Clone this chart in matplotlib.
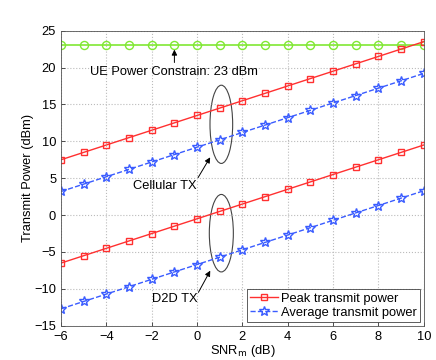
import matplotlib
matplotlib.use("Agg")
import matplotlib.pyplot as plt
from matplotlib.patches import Ellipse

plt.rcParams['font.family'] = ['Liberation Sans', 'DejaVu Sans']
plt.rcParams['font.size'] = 9.3

snr = [-6, -5, -4, -3, -2, -1, 0, 1, 2, 3, 4, 5, 6, 7, 8, 9, 10]
ue_limit = [23] * 17
peak_cell = [7.5, 8.5, 9.5, 10.5, 11.5, 12.5, 13.5, 14.5, 15.5, 16.5, 17.5,
             18.5, 19.5, 20.5, 21.5, 22.5, 23.5]
avg_cell = [3.2, 4.2, 5.2, 6.2, 7.2, 8.2, 9.2, 10.2, 11.2, 12.2, 13.2,
            14.2, 15.2, 16.2, 17.2, 18.2, 19.2]
peak_d2d = [-6.5, -5.5, -4.5, -3.5, -2.5, -1.5, -0.5, 0.5, 1.5, 2.5, 3.5,
            4.5, 5.5, 6.5, 7.5, 8.5, 9.5]
avg_d2d = [-12.7, -11.7, -10.7, -9.7, -8.7, -7.7, -6.7, -5.7, -4.7, -3.7,
           -2.7, -1.7, -0.7, 0.3, 1.3, 2.3, 3.3]

fig = plt.figure(figsize=(4.36, 3.6), dpi=100)
ax = fig.add_axes([0.14, 0.095, 0.832, 0.82])

green = '#80e833'
red = '#ff3030'
blue = '#3a5cff'

ax.plot(snr, ue_limit, '-o', color=green, mfc='none', ms=5.8, lw=1.2, mew=1)
ax.plot(snr, peak_cell, '-s', color=red, mfc='none', ms=5, lw=1, mew=1,
        label='Peak transmit power')
ax.plot(snr, avg_cell, '--*', color=blue, mfc='none', ms=7.5, lw=1, mew=1,
        label='Average transmit power')
ax.plot(snr, peak_d2d, '-s', color=red, mfc='none', ms=5, lw=1, mew=1)
ax.plot(snr, avg_d2d, '--*', color=blue, mfc='none', ms=7.5, lw=1, mew=1)

ax.add_patch(Ellipse((1.07, 12.3), 1.0, 10.6, fill=False, ec='#444444', lw=0.8))
ax.add_patch(Ellipse((1.07, -2.45), 1.06, 10.5, fill=False, ec='#444444', lw=0.8))

arrow = dict(arrowstyle='-|>', color='black', lw=0.7, mutation_scale=8)
ax.annotate('', xy=(-1.0, 22.8), xytext=(-1.0, 20.3), arrowprops=arrow)
ax.text(-1.0, 19.4, 'UE Power Constrain: 23 dBm', ha='center', va='center')
ax.annotate('', xy=(0.64, 8.15), xytext=(-0.02, 4.75), arrowprops=arrow)
ax.text(-1.42, 3.9, 'Cellular TX', ha='center', va='center')
ax.annotate('', xy=(0.64, -7.2), xytext=(0.0, -10.8), arrowprops=arrow)
ax.text(-0.98, -11.4, 'D2D TX', ha='center', va='center')

ax.set_xlim(-6, 10)
ax.set_ylim(-15, 25)
ax.set_xticks(range(-6, 11, 2))
ax.set_yticks(range(-15, 26, 5))
ax.grid(True, linestyle=':', color='#bbbbbb', lw=0.8)
ax.tick_params(direction='in', length=3, width=0.6, colors='#333333',
               labelcolor='black')
for s in ax.spines.values():
    s.set_linewidth(0.6)
    s.set_color('#555555')
ax.set_xlabel('SNR$_\\mathrm{m}$ (dB)', labelpad=0)
ax.set_ylabel('Transmit Power (dBm)', labelpad=0)
ax.yaxis.set_label_coords(-0.075, 0.5)

leg = ax.legend(loc='lower right', fancybox=False, edgecolor='#333333',
                borderpad=0.25, handlelength=2.2, handletextpad=0.2,
                labelspacing=0.15, borderaxespad=0.3)
leg.get_frame().set_linewidth(0.7)

fig.savefig('out.png', dpi=100)
